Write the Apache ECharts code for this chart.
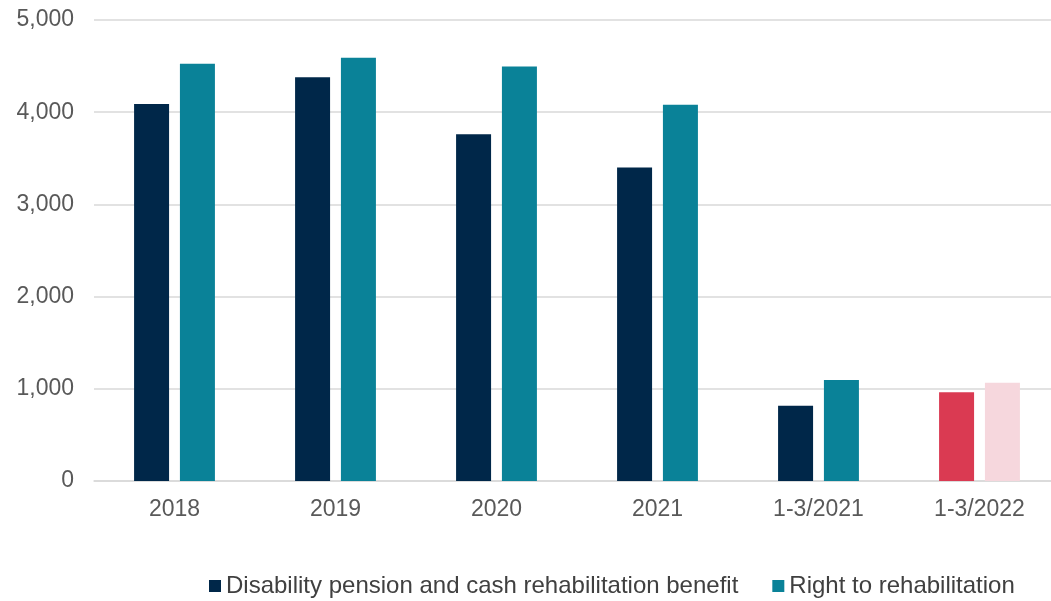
<!DOCTYPE html>
<html>
<head>
<meta charset="utf-8">
<script src="https://cdn.jsdelivr.net/npm/echarts@6/dist/echarts.min.js"></script>
<style>
html,body{margin:0;padding:0;background:#fff;}
#chart{width:1051px;height:601px;}
</style>
</head>
<body>
<div id="chart"></div>
<script>
const categories = ['2018', '2019', '2020', '2021', '1-3/2021', '1-3/2022'];
const disabilityValues = [4090, 4380, 3760, 3400, 817, 962];
const rehabValues = [4525, 4590, 4495, 4080, 1095, 1066];
const yTicks = [0, 1000, 2000, 3000, 4000, 5000];
const seriesNames = ['Disability pension and cash rehabilitation benefit', 'Right to rehabilitation'];
const colors = {
  dark: '#002749',
  teal: '#0a8298',
  red: '#da3a52',
  pink: '#f6d7dd'
};

const lastIdx = categories.length - 1;
function itemData(values, highlight) {
  return values.map((v, i) => i === lastIdx ? { value: v, itemStyle: { color: highlight } } : v);
}

const chart = echarts.init(document.getElementById('chart'), null, { renderer: 'canvas' });
const font = 'Liberation Sans, Arial, sans-serif';
chart.setOption({
  animation: false,
  grid: { left: 94, width: 966, top: 20, height: 461, containLabel: false, outerBoundsMode: 'none' },
  legend: {
    top: 569,
    left: 204,
    itemWidth: 12,
    itemHeight: 12,
    itemGap: 34,
    icon: 'rect',
    textStyle: { fontFamily: font, fontSize: 24, color: '#404040', padding: [0, 0, 0, 0] },
    data: seriesNames
  },
  xAxis: {
    type: 'category',
    data: categories,
    axisLine: { lineStyle: { color: '#d9d9d9', width: 1.5 } },
    axisTick: { show: false },
    axisLabel: { fontFamily: font, fontSize: 23, color: '#595959', margin: 17 }
  },
  yAxis: {
    type: 'value',
    min: yTicks[0],
    max: yTicks[yTicks.length - 1],
    interval: 1000,
    axisLine: { show: false },
    axisTick: { show: false },
    splitLine: { lineStyle: { color: '#d9d9d9', width: 1.5 } },
    axisLabel: {
      fontFamily: font, fontSize: 23, color: '#595959', margin: 20,
      formatter: v => v.toLocaleString('en-US')
    }
  },
  series: [
    {
      name: seriesNames[0],
      type: 'bar',
      barWidth: 35,
      barGap: '31%',
      itemStyle: { color: colors.dark },
      data: itemData(disabilityValues, colors.red)
    },
    {
      name: seriesNames[1],
      type: 'bar',
      barWidth: 35,
      barGap: '31%',
      itemStyle: { color: colors.teal },
      data: itemData(rehabValues, colors.pink)
    }
  ]
});
</script>
</body>
</html>
